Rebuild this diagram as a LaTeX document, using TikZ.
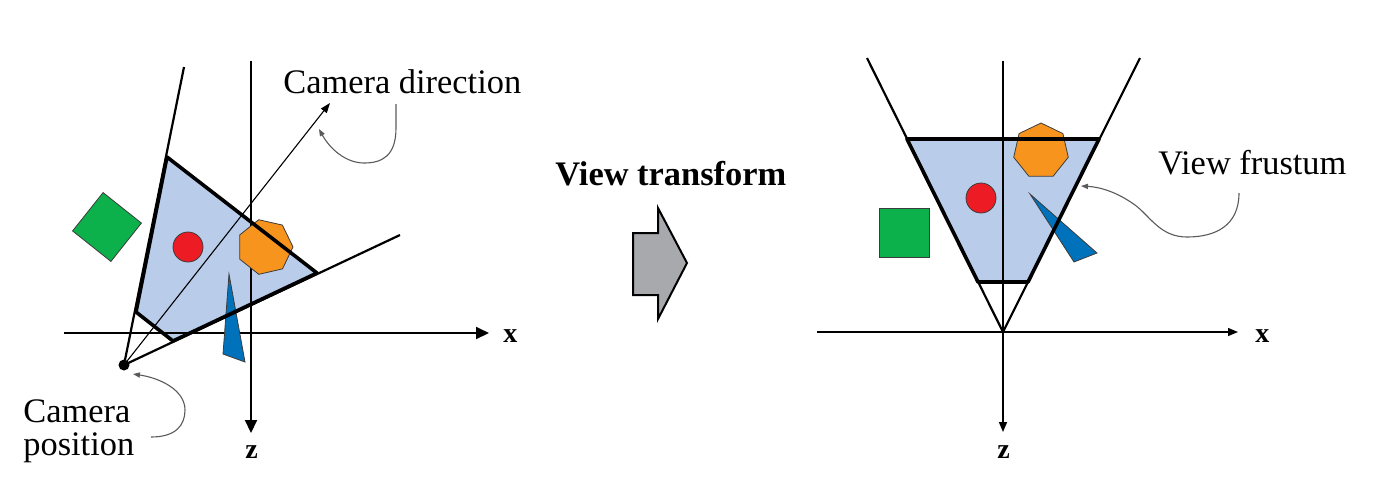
\documentclass[tikz,border=0pt]{standalone}
\usepackage{fontspec}
\setmainfont{Liberation Serif}
\usetikzlibrary{arrows.meta,shapes.geometric}
\definecolor{fru}{RGB}{185,205,235}
\definecolor{sred}{RGB}{237,28,36}
\definecolor{sorange}{RGB}{247,148,30}
\definecolor{sgreen}{RGB}{13,177,75}
\definecolor{sblue}{RGB}{0,114,188}
\definecolor{arrgray}{RGB}{167,169,172}
\definecolor{objline}{RGB}{60,60,60}
\definecolor{callgray}{RGB}{90,90,90}
\begin{document}
\begin{tikzpicture}[x=0.5pt,y=-0.5pt,
  thickedge/.style={line width=1.8pt,line join=round},
  ray/.style={line width=1.1pt},
  axisL/.style={line width=1pt,-{Triangle[length=6.5pt,width=6pt]}},
  axisR/.style={line width=0.75pt,-{Triangle[length=5pt,width=4pt]}},
  callout/.style={draw=callgray,line width=0.55pt,-{Triangle[length=3.5pt,width=2.6pt]}},
  lbl/.style={font=\fontsize{17.2pt}{20pt}\selectfont,inner sep=0pt,anchor=base west},
  boldlbl/.style={font=\bfseries\fontsize{17.2pt}{20pt}\selectfont,inner sep=0pt,anchor=base west},
  axlbl/.style={font=\bfseries\fontsize{14pt}{16pt}\selectfont,inner sep=0pt,anchor=base west},
  obj/.style={draw=objline,line width=0.4pt,inner sep=0pt,outer sep=0pt},
  dot/.style={circle,fill=black,inner sep=0pt,minimum size=5.5pt}]
\useasboundingbox (0,0) rectangle (1383,495);

% ================= LEFT: world space =================
\coordinate (cam) at (124,365);
\coordinate (nlL) at (136,312);
\coordinate (flL) at (167,157);
\coordinate (frL) at (317,273);
\coordinate (nrL) at (173,341);
\coordinate (topL) at (184,67);
\coordinate (rightL) at (400,235);
\coordinate (dirtip) at (330,103);
\coordinate (xaL0) at (64,333);
\coordinate (xaL1) at (489,333);
\coordinate (zaL0) at (251,61);
\coordinate (zaL1) at (251,433);

\fill[fru] (nlL) -- (flL) -- (frL) -- (nrL) -- cycle;
\draw[axisL] (xaL0) -- (xaL1);
\draw[axisL] (zaL0) -- (zaL1);

\node[obj,fill=sgreen,rectangle,minimum size=24.5pt,rotate=51.5] (sqL) at (107,227) {};
\node[obj,fill=sred,circle,minimum size=15pt] (redL) at (188,247) {};
\node[obj,fill=sorange,regular polygon,regular polygon sides=7,minimum size=28pt,rotate=13] (heptL) at (265,247) {};
\draw[obj,fill=sblue] (229,274) -- (223,354) -- (245,362) -- cycle;

\draw[ray] (cam) -- (topL);
\draw[ray] (cam) -- (rightL);
\draw[thickedge] (nlL) -- (flL) -- (frL) -- (nrL) -- cycle;
\draw[line width=0.55pt,-{Triangle[length=5pt,width=3.6pt]}] (cam) -- (dirtip);
\node[dot] (camdot) at (cam) {};

\node[axlbl] (xL) at (503,342) {x};
\node[axlbl] (zL) at (245,458) {z};
\node[lbl] (camdir) at (283,93) {Camera direction};
\node[lbl] (campos1) at (23,422) {Camera};
\node[lbl] (campos2) at (23,455) {position};

\coordinate (cdStart) at (396,104);
\coordinate (cdTip) at (319,129);
\draw[callout] (cdStart) -- (396,128) .. controls (396,156) and (382,163) .. (364,163)
   .. controls (346,163) and (330,149) .. (cdTip);
\coordinate (cpStart) at (151,437);
\coordinate (cpTip) at (133,374);
\draw[callout] (cpStart) .. controls (176,437) and (185,425) .. (185,410)
   .. controls (185,390) and (160,378) .. (cpTip);

% ================= MIDDLE =================
\node[boldlbl] (vt) at (555,185) {View transform};
\draw[line width=1pt,fill=arrgray,line join=miter] (633,233) -- (658,233) -- (658,208)
   -- (687,263) -- (658,319) -- (658,295) -- (633,295) -- cycle;

% ================= RIGHT: view space =================
\coordinate (apex) at (1003,332);
\coordinate (ltR) at (867,58);
\coordinate (rtR) at (1140,58);
\coordinate (flR) at (907,139);
\coordinate (frR) at (1099,139);
\coordinate (nlR) at (978,282);
\coordinate (nrR) at (1028,282);
\coordinate (xaR0) at (817,332);
\coordinate (xaR1) at (1238,332);
\coordinate (zaR0) at (1003,61);
\coordinate (zaR1) at (1003,432);

\fill[fru] (nlR) -- (flR) -- (frR) -- (nrR) -- cycle;
\draw[axisR] (xaR0) -- (xaR1);
\draw[axisR] (zaR0) -- (zaR1);

\node[obj,fill=sgreen,rectangle,minimum width=25pt,minimum height=24.5pt] (sqR) at (904,232.5) {};
\node[obj,fill=sred,circle,minimum size=15pt] (redR) at (981,198) {};
\node[obj,fill=sorange,regular polygon,regular polygon sides=7,minimum size=28pt] (heptR) at (1041,151) {};
\draw[obj,fill=sblue] (1030,194) -- (1097,253) -- (1074,262) -- cycle;

\draw[ray] (apex) -- (ltR);
\draw[ray] (apex) -- (rtR);
\draw[thickedge] (nlR) -- (flR) -- (frR) -- (nrR) -- cycle;

\node[axlbl] (xR) at (1255,342) {x};
\node[axlbl] (zR) at (997,458) {z};
\node[lbl] (vf) at (1158,174) {View frustum};

\coordinate (vfStart) at (1239,193);
\coordinate (vfTip) at (1081,186);
\draw[callout] (vfStart) .. controls (1239,226) and (1215,237) .. (1187,237)
   .. controls (1160,237) and (1150,216) .. (1135,205)
   .. controls (1117,192) and (1100,187) .. (vfTip);
\end{tikzpicture}
\end{document}
